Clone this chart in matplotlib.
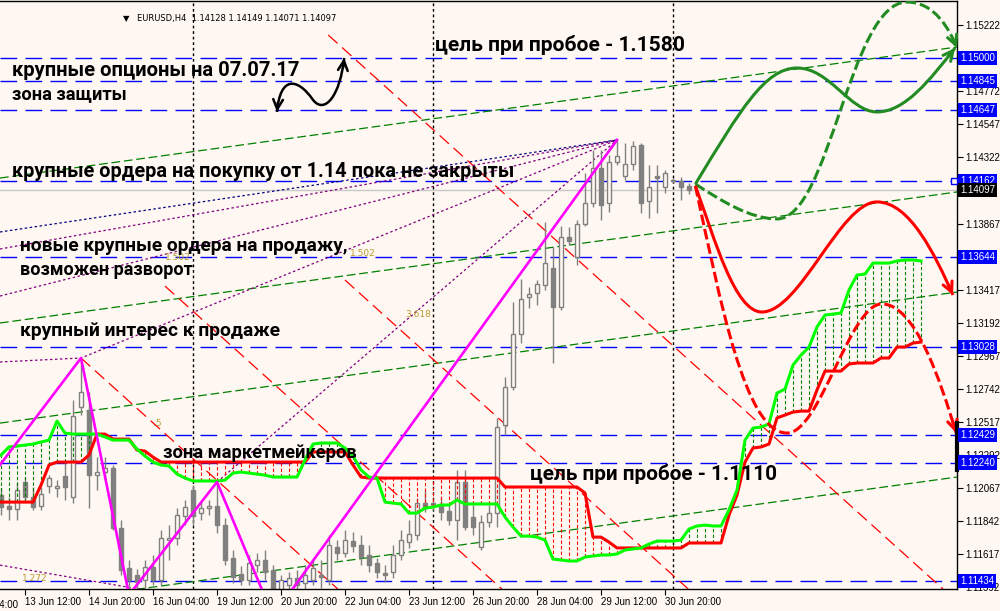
import numpy as np
import matplotlib
matplotlib.use("Agg")
import matplotlib.pyplot as plt
import matplotlib.transforms as mtransforms
from matplotlib.path import Path
from matplotlib.patches import PathPatch, Rectangle

BG = "#FFF8F2"
CANDLE = "#808080"

# EURUSD H4, bar 0 = 13 Jun 12:00
FIRST_BAR = -3
opens = [
    1.12018, 1.11943, 1.11923, 1.12107, 1.12005, 1.11943, 1.12080, 1.12066, 1.12148, 1.12005,
    1.12619, 1.12598, 1.12155, 1.12175, 1.12202, 1.11793, 1.11520, 1.11472, 1.11438, 1.11527,
    1.11438, 1.11711, 1.11725, 1.11875, 1.12052, 1.11895, 1.11929, 1.11943, 1.11813, 1.11588,
    1.11479, 1.11438, 1.11540, 1.11575, 1.11506, 1.11356, 1.11404, 1.11452, 1.11418, 1.11438,
    1.11472, 1.11438, 1.11663, 1.11622, 1.11704, 1.11677, 1.11609, 1.11554, 1.11486, 1.11493,
    1.11609, 1.11697, 1.11745, 1.11963, 1.11963, 1.11957, 1.11909, 1.11848, 1.12107, 1.11868,
    1.11663, 1.11834, 1.11895, 1.12496, 1.12755, 1.13117, 1.13369, 1.13397, 1.13451, 1.13567,
    1.13301, 1.13779, 1.13642, 1.13867, 1.14011, 1.14250, 1.14011, 1.14291, 1.14195, 1.14277,
    1.14407, 1.14024, 1.14195, 1.14120, 1.14168, 1.14161, 1.14128,
]
highs = [
    1.12066, 1.12005, 1.12107, 1.12141, 1.12073, 1.12073, 1.12155, 1.12120, 1.12257, 1.12666,
    1.12953, 1.12721, 1.12277, 1.12277, 1.12223, 1.11848, 1.11575, 1.11513, 1.11575, 1.11609,
    1.11779, 1.11813, 1.11929, 1.11984, 1.12086, 1.11984, 1.11984, 1.12107, 1.11861, 1.11643,
    1.11534, 1.11609, 1.11622, 1.11643, 1.11540, 1.11472, 1.11493, 1.11506, 1.11540, 1.11575,
    1.11575, 1.11745, 1.11711, 1.11779, 1.11766, 1.11745, 1.11677, 1.11588, 1.11540, 1.11677,
    1.11779, 1.11848, 1.11998, 1.12052, 1.11984, 1.11998, 1.11950, 1.12189, 1.12189, 1.11950,
    1.11881, 1.11950, 1.12544, 1.12823, 1.13335, 1.13492, 1.13438, 1.13485, 1.13881, 1.13711,
    1.13854, 1.13847, 1.13895, 1.14215, 1.14372, 1.14372, 1.14338, 1.14441, 1.14420, 1.14434,
    1.14420, 1.14270, 1.14270, 1.14236, 1.14181, 1.14188, 1.14149,
]
lows = [
    1.11881, 1.11848, 1.11848, 1.11984, 1.11916, 1.11916, 1.12032, 1.12005, 1.11984, 1.11963,
    1.12564, 1.11929, 1.12052, 1.12120, 1.11779, 1.11472, 1.11336, 1.11377, 1.11384, 1.11404,
    1.11404, 1.11575, 1.11677, 1.11813, 1.11813, 1.11848, 1.11881, 1.11759, 1.11540, 1.11418,
    1.11404, 1.11404, 1.11493, 1.11438, 1.11192, 1.11329, 1.11356, 1.11370, 1.11370, 1.11404,
    1.11384, 1.11404, 1.11575, 1.11595, 1.11629, 1.11540, 1.11493, 1.11452, 1.11424, 1.11452,
    1.11575, 1.11657, 1.11711, 1.11902, 1.11916, 1.11848, 1.11813, 1.11711, 1.11779, 1.11745,
    1.11643, 1.11800, 1.11800, 1.12428, 1.12735, 1.13055, 1.13294, 1.13315, 1.13417, 1.12919,
    1.13281, 1.13724, 1.13588, 1.13854, 1.13983, 1.13895, 1.13949, 1.14270, 1.14168, 1.14236,
    1.13942, 1.13908, 1.13942, 1.14079, 1.14147, 1.14031, 1.14071,
]
closes = [
    1.11936, 1.11923, 1.12052, 1.12005, 1.11936, 1.12025, 1.12134, 1.12080, 1.12073, 1.12557,
    1.12721, 1.12155, 1.12175, 1.12202, 1.11793, 1.11506, 1.11438, 1.11424, 1.11527, 1.11438,
    1.11725, 1.11725, 1.11881, 1.11936, 1.11875, 1.11929, 1.11943, 1.11813, 1.11575, 1.11459,
    1.11438, 1.11554, 1.11575, 1.11493, 1.11336, 1.11438, 1.11452, 1.11404, 1.11472, 1.11520,
    1.11459, 1.11677, 1.11622, 1.11711, 1.11670, 1.11595, 1.11540, 1.11493, 1.11472, 1.11609,
    1.11711, 1.11752, 1.11963, 1.11929, 1.11943, 1.11902, 1.11848, 1.12107, 1.11800, 1.11800,
    1.11834, 1.11895, 1.12482, 1.12755, 1.13117, 1.13356, 1.13390, 1.13458, 1.13601, 1.13301,
    1.13779, 1.13751, 1.13867, 1.14011, 1.14250, 1.13997, 1.14291, 1.14331, 1.14277, 1.14400,
    1.14011, 1.14120, 1.14181, 1.14215, 1.14161, 1.14120, 1.14097,
]

# ichimoku spans (shifted forward)
CLOUD_START = -3
span_lime = [
    1.12291, 1.12346, 1.12352, 1.12359, 1.12366, 1.12380, 1.12393, 1.12523, 1.12441, 1.12434,
    1.12434, 1.12434, 1.12434, 1.12414, 1.12393, 1.12393, 1.12393, 1.12332, 1.12284, 1.12243,
    1.12223, 1.12216, 1.12161, 1.12134, 1.12114, 1.12114, 1.12114, 1.12114, 1.12120, 1.12168,
    1.12175, 1.12168, 1.12161, 1.12154, 1.12141, 1.12141, 1.12141, 1.12141, 1.12257, 1.12366,
    1.12373, 1.12373, 1.12373, 1.12339, 1.12284, 1.12189, 1.12141, 1.12134, 1.11970, 1.11963,
    1.11957, 1.11895, 1.11895, 1.11929, 1.11936, 1.11950, 1.11950, 1.11984, 1.11957, 1.11957,
    1.11957, 1.11957, 1.11957, 1.11868, 1.11800, 1.11738, 1.11738, 1.11731, 1.11711, 1.11581,
    1.11575, 1.11568, 1.11568, 1.11595, 1.11602, 1.11609, 1.11609, 1.11616, 1.11643, 1.11650,
    1.11657, 1.11684, 1.11704, 1.11704, 1.11704, 1.11711, 1.11786, 1.11807, 1.11813, 1.11807,
    1.11807, 1.11916, 1.12052, 1.12393, 1.12475, 1.12482, 1.12503, 1.12714, 1.12741, 1.12905,
    1.12973, 1.13028, 1.13165, 1.13246, 1.13253, 1.13260, 1.13417, 1.13519, 1.13526, 1.13601,
    1.13601, 1.13601, 1.13615, 1.13622, 1.13622, 1.13615,
]
span_red = [
    1.11970, 1.11970, 1.11970, 1.11970, 1.11970, 1.12086, 1.12223, 1.12243, 1.12243, 1.12243,
    1.12243, 1.12291, 1.12434, 1.12434, 1.12400, 1.12400, 1.12400, 1.12325, 1.12318, 1.12277,
    1.12243, 1.12243, 1.12243, 1.12243, 1.12243, 1.12243, 1.12243, 1.12243, 1.12243, 1.12243,
    1.12243, 1.12243, 1.12243, 1.12243, 1.12243, 1.12243, 1.12243, 1.12243, 1.12243, 1.12312,
    1.12312, 1.12312, 1.12312, 1.12312, 1.12223, 1.12141, 1.12134, 1.12134, 1.12134, 1.12134,
    1.12134, 1.12134, 1.12134, 1.12134, 1.12134, 1.12134, 1.12134, 1.12134, 1.12134, 1.12134,
    1.12134, 1.12134, 1.12134, 1.12073, 1.12073, 1.12073, 1.12073, 1.12073, 1.12073, 1.12073,
    1.12073, 1.12073, 1.12073, 1.12032, 1.11731, 1.11731, 1.11697, 1.11657, 1.11657, 1.11657,
    1.11657, 1.11657, 1.11657, 1.11657, 1.11657, 1.11657, 1.11691, 1.11691, 1.11691, 1.11691,
    1.11691, 1.11881, 1.12018, 1.12243, 1.12339, 1.12346, 1.12366, 1.12544, 1.12564, 1.12584,
    1.12591, 1.12591, 1.12735, 1.12864, 1.12864, 1.12864, 1.12912, 1.12919, 1.12919, 1.12919,
    1.12953, 1.12953, 1.13028, 1.13028, 1.13055, 1.13062,
]

zigzag_bar = [-4, 7, 13, 24, 31, 74]
zigzag_price = [1.12161, 1.12953, 1.11336, 1.12107, 1.11192, 1.14441]

levels = [1.15000, 1.14845, 1.14647, 1.14162, 1.13644, 1.13028, 1.12429, 1.12240, 1.11434]
last_price = 1.14097
price_ticks = [1.15222, 1.14772, 1.14547, 1.14322, 1.13867, 1.13417, 1.13192, 1.12967,
               1.12742, 1.12517, 1.12292, 1.12067, 1.11842, 1.11617, 1.11392]

time_bars = [-8, 0, 8, 16, 24, 32, 40, 48, 56, 64, 72, 80]
time_labels = ["12 Jun 04:00", "13 Jun 12:00", "14 Jun 20:00", "16 Jun 04:00", "19 Jun 12:00",
               "20 Jun 20:00", "22 Jun 04:00", "23 Jun 12:00", "26 Jun 20:00", "28 Jun 04:00",
               "29 Jun 12:00", "30 Jun 20:00"]
week_separators = [21, 51, 81]

# trendline anchors (bar, price)
green_channel = [[(-3.125, 1.11247), (116.5, 1.12141)],
                 [(-3.125, 1.12509), (116.5, 1.13403)],
                 [(-3.125, 1.13192), (116.5, 1.14086)],
                 [(-3.125, 1.14181), (116.5, 1.15075)]]
red_fan = [[(37.9, 1.15157), (114.75, 1.11377)],
           [(40.0, 1.13485), (82.9, 1.11377)],
           [(7.0, 1.12953), (39.1, 1.11377)],
           [(17.5, 1.13444), (59.6, 1.11377)]]
purple_fan = [[(-3.125, 1.13697), (74, 1.14441)],
              [(-3.125, 1.13376), (74, 1.14441)],
              [(-3.125, 1.12926), (7, 1.12953), (74, 1.14441)],
              [(24, 1.12107), (74, 1.14441)],
              [(-3.125, 1.11540), (16, 1.11360)]]
navy_fan = [[(-3.125, 1.13813), (74, 1.14441)]]
fib_labels = [(-0.4, 1.11452, "1.272"), (16.0, 1.12503, ".5"), (17.5, 1.13638, "1.502"),
              (40.6, 1.13669, "1.502"), (47.5, 1.13253, "3.618")]

# forecast paths: cubic bezier control points (bar, price)
fc_green = [(83.8, 1.14140), (89.4, 1.14645), (92.5, 1.14932), (96.5, 1.14932),
            (100.6, 1.14932), (103.1, 1.14632), (106.5, 1.14632),
            (110.0, 1.14632), (113.1, 1.14850), (116.25, 1.15068)]
fc_green_dash = [(83.8, 1.14140), (86.9, 1.14031), (90.6, 1.13902), (94.0, 1.13902),
                 (100.6, 1.13902), (103.1, 1.15382), (110.25, 1.15382),
                 (113.75, 1.15382), (115.6, 1.15191), (116.5, 1.15068)]
fc_red = [(83.8, 1.14127), (86.25, 1.13758), (88.75, 1.13267), (92.1, 1.13267),
          (96.9, 1.13267), (101.9, 1.14018), (106.5, 1.14018),
          (110.6, 1.14018), (113.75, 1.13656), (116.0, 1.13383)]
fc_red_dash = [(83.8, 1.14127), (86.9, 1.13349), (90.0, 1.12441), (95.25, 1.12441),
               (99.4, 1.12441), (103.1, 1.13322), (107.1, 1.13322),
               (111.25, 1.13322), (114.4, 1.12803), (116.4, 1.12441)]
squiggle = [(31.5, 1.14632), (31.9, 1.14884), (34.1, 1.14864), (36.0, 1.14714),
            (37.5, 1.14611), (39.4, 1.14748), (39.9, 1.15000)]

notes = [
    (-1.6, 1.14918, "крупные опционы на 07.07.17", 288),
    (-1.6, 1.14755, "зона защиты", 115),
    (51.25, 1.15089, "цель при пробое - 1.1580", 250),
    (-1.6, 1.14229, "крупные ордера на покупку от 1.14 пока не закрыты", 503),
    (-0.6, 1.13717, "новые крупные ордера на продажу,", 330),
    (-0.6, 1.13554, "возможен разворот", 173),
    (-0.6, 1.13137, "крупный интерес к продаже", 262),
    (17.25, 1.12305, "зона маркетмейкеров", 195),
    (63.1, 1.12161, "цель при пробое - 1.1110", 248),
]


def fit_text(artist, width_px):
    r = fig.canvas.get_renderer()
    w = artist.get_window_extent(renderer=r).width
    artist.set_fontsize(artist.get_fontsize() * width_px / w)


def bezier(pts, **kw):
    codes = [Path.MOVETO] + [Path.CURVE4] * (len(pts) - 1)
    ax.add_patch(PathPatch(Path(pts, codes), fill=False, **kw))


def arrow_head(tip, ctrl, color, lw):
    back = (tip[0] + 0.25 * (ctrl[0] - tip[0]), tip[1] + 0.25 * (ctrl[1] - tip[1]))
    ax.annotate("", xy=tip, xytext=back, annotation_clip=False,
                arrowprops=dict(arrowstyle="->,head_length=0.7,head_width=0.35",
                                color=color, lw=lw, shrinkA=0, shrinkB=0))


fig = plt.figure(figsize=(10, 6.11), dpi=100, facecolor=BG)
ax = fig.add_axes([0, 22 / 611, 957 / 1000, 588 / 611], facecolor=BG)
ax.set_xlim(-3.125, 116.5)
ax.set_ylim(1.11377, 1.15389)

# background objects
for lv in levels:
    ax.axhline(lv, color="#0000FF", lw=1.0, dashes=(12, 6), zorder=1)
ax.axhline(last_price, color="#C8C8C8", lw=1.0, zorder=1)
for b in week_separators:
    ax.axvline(b, color="black", lw=1.0, dashes=(2, 2), zorder=1)
for ln in green_channel:
    xs, ys = zip(*ln)
    ax.plot(xs, ys, color="#008000", lw=0.9, dashes=(7, 3), zorder=1.2)
for ln in red_fan:
    xs, ys = zip(*ln)
    ax.plot(xs, ys, color="#FF0000", lw=0.9, dashes=(10, 5), zorder=1.2)
for ln in purple_fan:
    xs, ys = zip(*ln)
    ax.plot(xs, ys, color="#800080", lw=0.9, dashes=(2, 2), zorder=1.2)
for ln in navy_fan:
    xs, ys = zip(*ln)
    ax.plot(xs, ys, color="#000080", lw=0.9, dashes=(2, 2), zorder=1.2)
for x, y, s in fib_labels:
    ax.text(x, y, s, color="#B89A30", fontsize=6.5, va="center", zorder=1.3)

# candles
bars = np.arange(FIRST_BAR, FIRST_BAR + len(opens))
for b, o, h, l, c in zip(bars, opens, highs, lows, closes):
    ax.vlines(b, l, h, color=CANDLE, lw=1.0, zorder=2)
    lo, hi = min(o, c), max(o, c)
    if hi - lo < 0.00004:
        hi = lo + 0.00004
    face = CANDLE if c < o else BG
    ax.add_patch(Rectangle((b - 0.3, lo), 0.6, hi - lo, fc=face, ec=CANDLE, lw=1.0, zorder=2.2))

# cloud
cb = np.arange(CLOUD_START, CLOUD_START + len(span_lime))
for b, a, r in zip(cb, span_lime, span_red):
    col = "#008000" if a > r else "#FF0000"
    ax.vlines(b, min(a, r), max(a, r), colors=col, lw=0.8, linestyles=(0, (3, 2)), zorder=2.5)
ax.plot(cb, span_red, color="#FF0000", lw=2.2, zorder=3)
ax.plot(cb, span_lime, color="#00FF00", lw=2.2, zorder=3.1)

ax.plot(zigzag_bar, zigzag_price, color="#FF00FF", lw=1.9, zorder=3.5)

# forecast
GREEN = "#228B22"
bezier(fc_green, ec=GREEN, lw=2.2, zorder=4)
bezier(fc_green_dash, ec=GREEN, lw=2.2, linestyle=(0, (3.5, 1.3)), zorder=4)
bezier(fc_red, ec="#FF0000", lw=2.2, zorder=4)
bezier(fc_red_dash, ec="#FF0000", lw=2.2, linestyle=(0, (3.5, 1.3)), zorder=4)
arrow_head(fc_green[-1], fc_green[-2], GREEN, 2.2)
arrow_head(fc_green_dash[-1], fc_green_dash[-2], GREEN, 2.2)
arrow_head(fc_red[-1], fc_red[-2], "#FF0000", 2.2)
arrow_head(fc_red_dash[-1], fc_red_dash[-2], "#FF0000", 2.2)

bezier(squiggle, ec="black", lw=1.8, zorder=4)
arrow_head(squiggle[0], squiggle[1], "black", 1.8)
arrow_head(squiggle[-1], squiggle[-2], "black", 1.8)

for x, y, s, w in notes:
    t = ax.text(x, y, s, fontsize=14, fontweight="bold", family=["Roboto", "DejaVu Sans"],
                va="center", ha="left", color="black", zorder=5)
    fit_text(t, w)

# axes look
for side in ("top", "right", "bottom"):
    ax.spines[side].set_color("black")
    ax.spines[side].set_linewidth(1.0)
ax.spines["left"].set_visible(False)
ax.yaxis.tick_right()
ax.set_yticks(price_ticks)
ax.set_yticklabels([f"{p:.5f}" for p in price_ticks])
ax.set_xticks(time_bars[1:])
ax.set_xticklabels(time_labels[1:])
ax.tick_params(axis="both", direction="out", length=4, width=0.8, labelsize=7,
               colors="black", pad=2)
for lbl in ax.get_xticklabels() + ax.get_yticklabels():
    lbl.set_family("Liberation Sans")
for lbl in ax.get_xticklabels():
    lbl.set_ha("left")

xtrans = mtransforms.blended_transform_factory(ax.transData, ax.transAxes)
ax.text(time_bars[0] + 0.1, -0.018, time_labels[0], transform=xtrans, fontsize=7,
        family="Liberation Sans", va="top", ha="left", clip_on=False)

ytrans = mtransforms.blended_transform_factory(ax.transAxes, ax.transData)
for lv in levels:
    ax.text(1.0 + 3 / 957, lv, f"{lv:.5f}", transform=ytrans, fontsize=7,
            family="Liberation Sans", color="white", va="center", ha="left", zorder=10,
            clip_on=False, bbox=dict(boxstyle="square,pad=0.22", fc="#0000FF", ec="none"))
ax.text(1.0 + 3 / 957, last_price, f"{last_price:.5f}", transform=ytrans, fontsize=7,
        family="Liberation Sans", color="white", va="center", ha="left", zorder=10,
        clip_on=False, bbox=dict(boxstyle="square,pad=0.22", fc="black", ec="none"))
ax.plot([116.1], [levels[3]], marker="s", ms=4, mfc=BG, mec="#0000FF", mew=1, zorder=6,
        clip_on=False)
ax.plot([116.5, 116.5], [1.12189, 1.12509], color="black", lw=3, zorder=6, clip_on=False)

# header
fig.text(123 / 1000, 1 - 19 / 611, "\u25bc", fontsize=6, va="center", ha="left")
hdr = fig.text(137 / 1000, 1 - 19 / 611, "EURUSD,H4  1.14128 1.14149 1.14071 1.14097",
               fontsize=7, va="center", ha="left", family="DejaVu Sans")
fit_text(hdr, 200)

fig.savefig("out.png", dpi=100, facecolor=BG)
